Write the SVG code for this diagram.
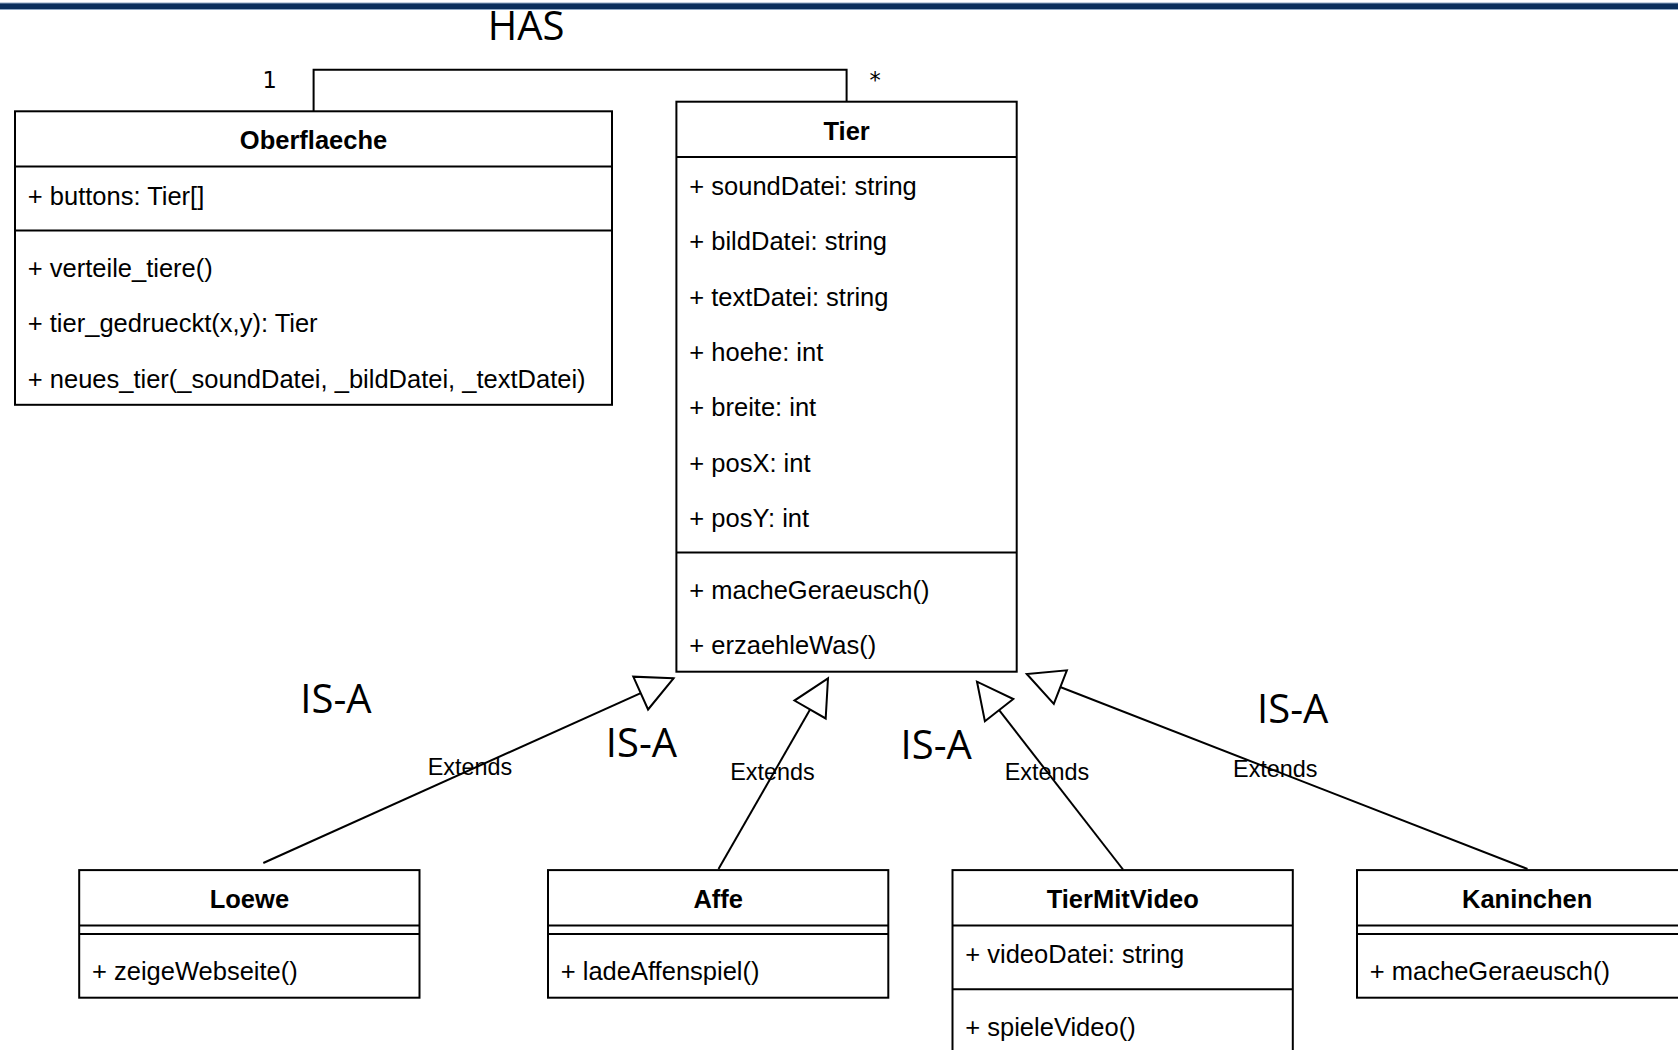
<svg xmlns="http://www.w3.org/2000/svg" width="1678" height="1050" viewBox="0 0 1678 1050">
<style>
.box{fill:#fff;stroke:#000;stroke-width:2}
.sep{stroke:#000;stroke-width:2;fill:none}
.edge{stroke:#000;stroke-width:2;fill:none}
.t{font-family:"Liberation Sans",Arial,Helvetica,sans-serif;font-size:25.5px;fill:#000}
.title{font-weight:bold;text-anchor:middle}
.lbl{font-family:"Liberation Sans",Arial,Helvetica,sans-serif;font-size:23.4px;fill:#000;text-anchor:middle}
.mult{font-family:"DejaVu Sans",sans-serif;font-size:22.5px;fill:#000}
.big{font-family:"Open Sans","Noto Sans",sans-serif;font-size:40px;fill:#000;text-anchor:middle}
</style>
<defs>
<marker id="tri" markerUnits="userSpaceOnUse" markerWidth="44" markerHeight="44" viewBox="-40 -22 44 44" refX="0" refY="0" orient="auto">
<path d="M0,0 L-36,-18 L-36,18 Z" fill="#fff" stroke="#000" stroke-width="2"/>
</marker>
</defs>
<rect width="1678" height="1050" fill="#fff"/>
<g id="topbar">
<rect x="0" y="3" width="1678" height="6.5" fill="#0b2f5c"/>
<line x1="0" y1="3" x2="1678" y2="3" stroke="#8ea6c2" stroke-width="1"/>
<line x1="0" y1="9.5" x2="1678" y2="9.5" stroke="#8ea6c2" stroke-width="1"/>
</g>
<g id="connectors">
<polyline class="edge" points="313.6,111.3 313.6,69.8 846.6,69.8 846.6,101.7"/>
<line class="edge" x1="263.3" y1="863" x2="673.5" y2="678.3" marker-end="url(#tri)"/>
<line class="edge" x1="718.5" y1="869" x2="828" y2="678.3" marker-end="url(#tri)"/>
<line class="edge" x1="1123" y1="869.5" x2="977" y2="681.7" marker-end="url(#tri)"/>
<line class="edge" x1="1527.5" y1="869" x2="1026.8" y2="674" marker-end="url(#tri)"/>
<text class="big" x="526" y="40">HAS</text>
<text class="mult" x="262.5" y="87.5">1</text>
<text class="mult" x="869.5" y="87.5">*</text>
<text class="big" x="336" y="712.7">IS-A</text>
<text class="big" x="641.5" y="757.3">IS-A</text>
<text class="big" x="936.2" y="759.3">IS-A</text>
<text class="big" x="1292.7" y="723.3">IS-A</text>
<text class="lbl" x="470" y="775">Extends</text>
<text class="lbl" x="772.5" y="780">Extends</text>
<text class="lbl" x="1047" y="780">Extends</text>
<text class="lbl" x="1275.3" y="777.3">Extends</text>
</g>
<g id="Oberflaeche">
<rect class="box" x="15" y="111.3" width="597" height="293.5"/>
<line class="sep" x1="15" y1="166.6" x2="612" y2="166.6"/>
<line class="sep" x1="15" y1="230.4" x2="612" y2="230.4"/>
<text class="t title" x="313.5" y="149.3">Oberflaeche</text>
<text class="t" x="27.8" y="204.6">+ buttons: Tier[]</text>
<text class="t" x="27.8" y="276.9">+ verteile_tiere()</text>
<text class="t" x="27.8" y="332.2">+ tier_gedrueckt(x,y): Tier</text>
<text class="t" x="27.8" y="387.5">+ neues_tier(_soundDatei, _bildDatei, _textDatei)</text>
</g>
<g id="Tier">
<rect class="box" x="676.4" y="101.7" width="340.3" height="570"/>
<line class="sep" x1="676.4" y1="157" x2="1016.7" y2="157"/>
<line class="sep" x1="676.4" y1="552.6" x2="1016.7" y2="552.6"/>
<text class="t title" x="846.6" y="139.7">Tier</text>
<text class="t" x="689.3" y="195">+ soundDatei: string</text>
<text class="t" x="689.3" y="250.3">+ bildDatei: string</text>
<text class="t" x="689.3" y="305.6">+ textDatei: string</text>
<text class="t" x="689.3" y="360.9">+ hoehe: int</text>
<text class="t" x="689.3" y="416.2">+ breite: int</text>
<text class="t" x="689.3" y="471.5">+ posX: int</text>
<text class="t" x="689.3" y="526.8">+ posY: int</text>
<text class="t" x="689.3" y="599.1">+ macheGeraeusch()</text>
<text class="t" x="689.3" y="654.4">+ erzaehleWas()</text>
</g>
<g id="Loewe">
<rect class="box" x="79.2" y="870.1" width="340.3" height="127.6"/>
<line class="sep" x1="79.2" y1="925.4" x2="419.5" y2="925.4"/>
<line class="sep" x1="79.2" y1="933.9" x2="419.5" y2="933.9"/>
<text class="t title" x="249.4" y="908.1">Loewe</text>
<text class="t" x="92" y="980.4">+ zeigeWebseite()</text>
</g>
<g id="Affe">
<rect class="box" x="548" y="870.1" width="340.3" height="127.6"/>
<line class="sep" x1="548" y1="925.4" x2="888.3" y2="925.4"/>
<line class="sep" x1="548" y1="933.9" x2="888.3" y2="933.9"/>
<text class="t title" x="718.2" y="908.1">Affe</text>
<text class="t" x="560.8" y="980.4">+ ladeAffenspiel()</text>
</g>
<g id="TierMitVideo">
<rect class="box" x="952.5" y="870.1" width="340.3" height="183"/>
<line class="sep" x1="952.5" y1="925.4" x2="1292.8" y2="925.4"/>
<line class="sep" x1="952.5" y1="989.2" x2="1292.8" y2="989.2"/>
<text class="t title" x="1122.7" y="908.1">TierMitVideo</text>
<text class="t" x="965.3" y="963.4">+ videoDatei: string</text>
<text class="t" x="965.3" y="1035.7">+ spieleVideo()</text>
</g>
<g id="Kaninchen">
<rect class="box" x="1357" y="870.1" width="340.3" height="127.6"/>
<line class="sep" x1="1357" y1="925.4" x2="1697.3" y2="925.4"/>
<line class="sep" x1="1357" y1="933.9" x2="1697.3" y2="933.9"/>
<text class="t title" x="1527.2" y="908.1">Kaninchen</text>
<text class="t" x="1369.8" y="980.4">+ macheGeraeusch()</text>
</g>
</svg>
